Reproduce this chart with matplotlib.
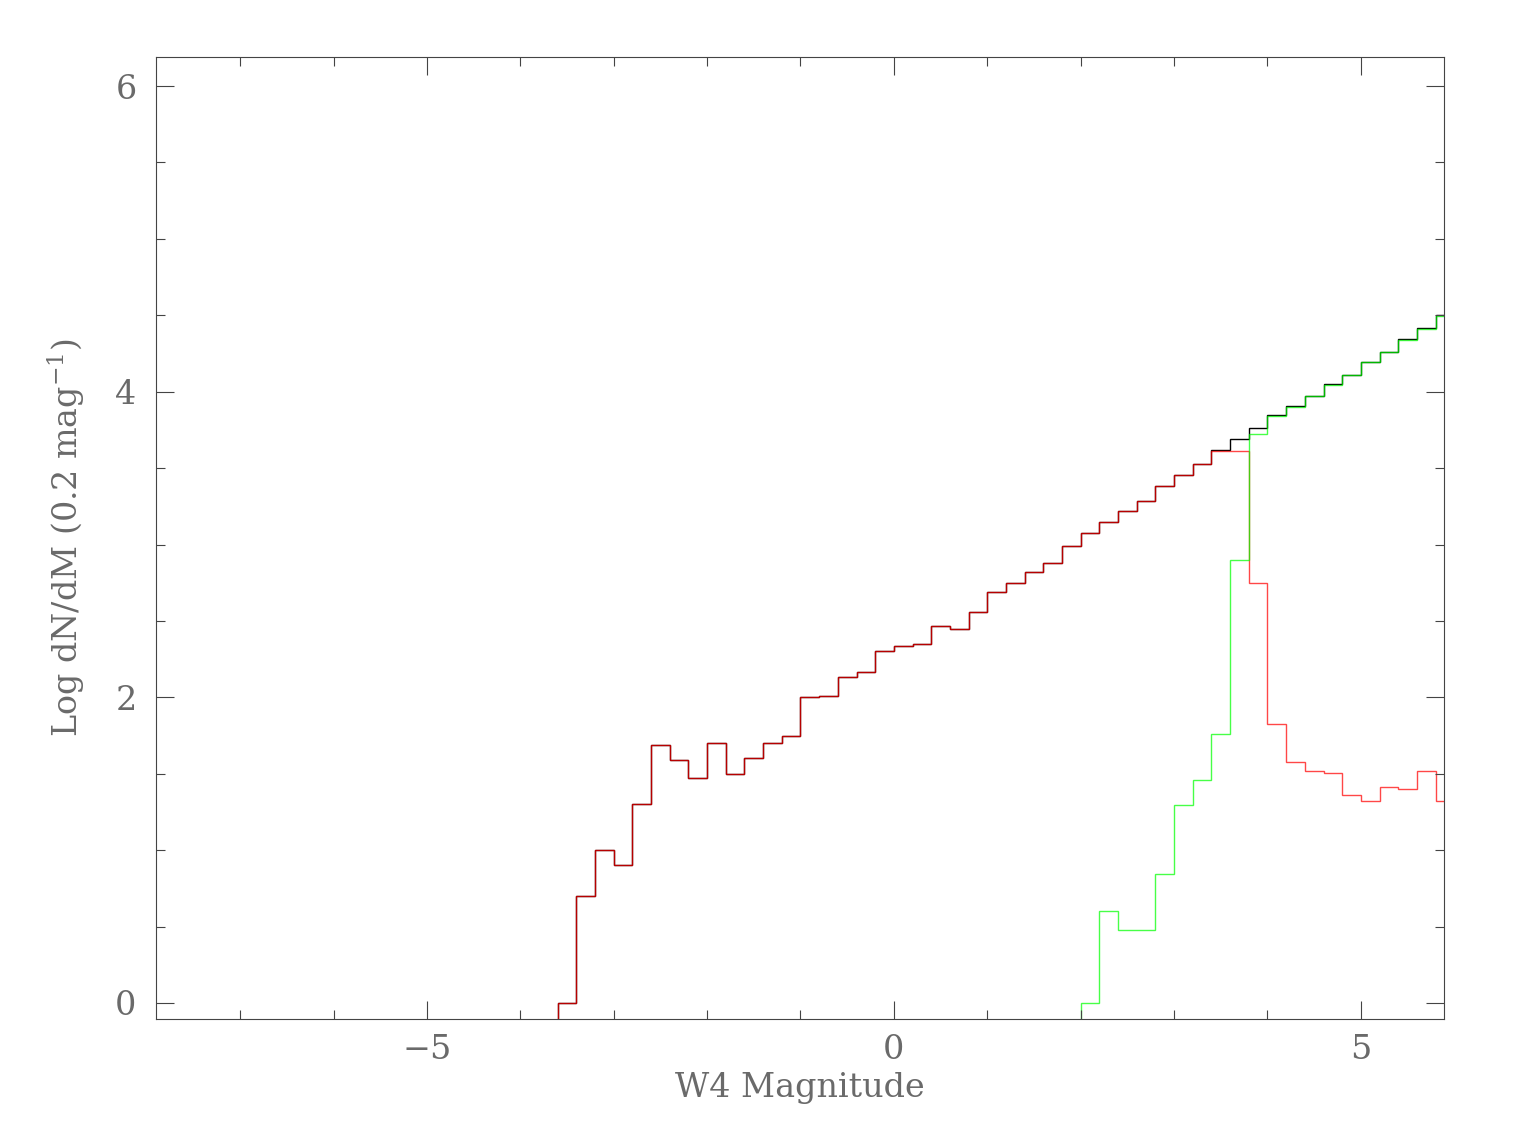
import matplotlib.pyplot as plt
from matplotlib.ticker import MultipleLocator
import numpy as np

# Bins of 0.2 mag (lower edges), W4 magnitude
bordes_rojo = np.round(np.arange(-3.6, 6.01, 0.2), 1)
bordes_verde = np.round(np.arange(2.0, 6.01, 0.2), 1)

# Log dN/dM per bin
rojo = [0.00, 0.70, 1.00, 0.90, 1.30, 1.69, 1.59, 1.47, 1.70, 1.50,
        1.60, 1.70, 1.75, 2.005, 2.01, 2.13, 2.165, 2.30, 2.333, 2.346,
        2.468, 2.45, 2.558, 2.686, 2.75, 2.822, 2.881, 2.992, 3.075, 3.147,
        3.221, 3.286, 3.38, 3.452, 3.524, 3.614, 3.614, 2.748, 1.824, 1.578,
        1.519, 1.504, 1.362, 1.32, 1.412, 1.397, 1.519, 1.32]

verde = [0.00, 0.60, 0.476, 0.476, 0.845, 1.296, 1.46, 1.763, 2.896, 3.72,
         3.841, 3.902, 3.972, 4.046, 4.109, 4.192, 4.26, 4.34, 4.412, 4.493]

total = [0.00, 0.70, 1.00, 0.90, 1.30, 1.69, 1.59, 1.47, 1.70, 1.50,
         1.60, 1.70, 1.75, 2.005, 2.01, 2.13, 2.165, 2.30, 2.333, 2.346,
         2.468, 2.45, 2.558, 2.686, 2.75, 2.822, 2.881, 2.992, 3.075, 3.147,
         3.221, 3.286, 3.38, 3.452, 3.524, 3.618, 3.69, 3.762, 3.845, 3.905,
         3.975, 4.048, 4.111, 4.194, 4.262, 4.342, 4.414, 4.50]

fuente = "DejaVu Serif"
gris = "#6a6a6a"
plt.rcParams["mathtext.fontset"] = "dejavuserif"

fig = plt.figure(figsize=(15.36, 11.48), dpi=100)
ax = fig.add_axes([0.1016, 0.1124, 0.8385, 0.8379])

# Total (black) underneath, components on top with transparency
ax.stairs(total, bordes_rojo, baseline=-1, color="black", lw=1.0)
ax.stairs(rojo, bordes_rojo, baseline=-1, color="red", lw=1.0, alpha=0.72)
ax.stairs(verde, bordes_verde, baseline=-1, color="#00ff00", lw=1.0, alpha=0.72)

ax.set_xlim(-7.9, 5.89)
ax.set_ylim(-0.105, 6.19)

ax.xaxis.set_major_locator(MultipleLocator(5))
ax.xaxis.set_minor_locator(MultipleLocator(1))
ax.yaxis.set_major_locator(MultipleLocator(2))
ax.yaxis.set_minor_locator(MultipleLocator(0.5))

ax.tick_params(which="both", direction="in", top=True, right=True,
               color="#444444", width=0.8)
ax.tick_params(which="major", length=13)
ax.tick_params(which="minor", length=6.5)
ax.tick_params(axis="x", which="major", pad=11, labelsize=24, labelcolor=gris)
ax.tick_params(axis="y", which="major", pad=14, labelsize=24, labelcolor=gris)
for lab in ax.get_xticklabels() + ax.get_yticklabels():
    lab.set_fontfamily(fuente)
    lab.set_fontweight("light")

for s in ax.spines.values():
    s.set_color("#444444")
    s.set_linewidth(0.8)

ax.set_xlabel("W4 Magnitude", fontsize=24, color=gris, family=fuente, labelpad=4)
ax.set_ylabel("Log dN/dM (0.2 mag$^{-1}$)", fontsize=24, color=gris,
              family=fuente, labelpad=20)

fig.savefig("out.png", dpi=100)
